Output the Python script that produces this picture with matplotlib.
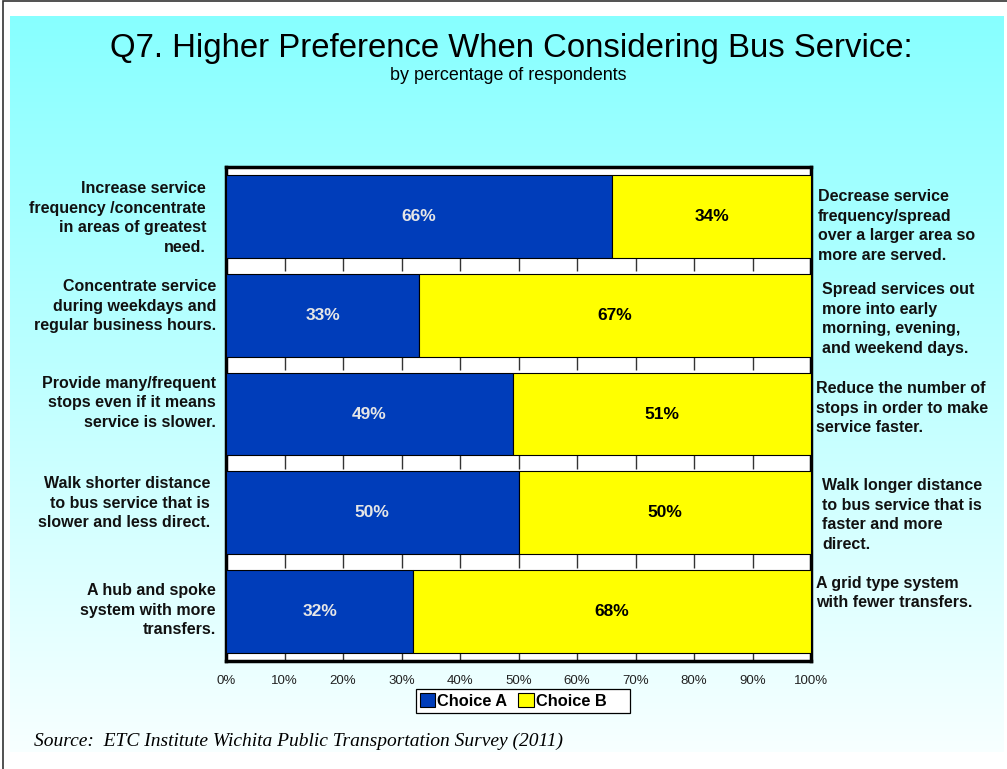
import numpy as np
import matplotlib
matplotlib.use("Agg")
import matplotlib.pyplot as plt
from matplotlib.patches import Patch, Rectangle

# data
left_labels = [
    "Increase service\nfrequency /concentrate\nin areas of greatest\nneed.",
    "Concentrate service\nduring weekdays and\nregular business hours.",
    "Provide many/frequent\nstops even if it means\nservice is slower.",
    "Walk shorter distance\nto bus service that is\nslower and less direct.",
    "A hub and spoke\nsystem with more\ntransfers.",
]
right_labels = [
    "Decrease service\nfrequency/spread\nover a larger area so\nmore are served.",
    "Spread services out\nmore into early\nmorning, evening,\nand weekend days.",
    "Reduce the number of\nstops in order to make\nservice faster.",
    "Walk longer distance\nto bus service that is\nfaster and more\ndirect.",
    "A grid type system\nwith fewer transfers.",
]
choice_a = [66, 33, 49, 50, 32]
choice_b = [34, 67, 51, 50, 68]
x_ticks = [0, 10, 20, 30, 40, 50, 60, 70, 80, 90, 100]

BLUE = "#003DBA"
YELLOW = "#FFFF00"
W, H = 1007, 769

# label placement in pixels (text boxes were placed by hand in the original)
left_x = [206, 216, 216, 210, 216]
left_y = [218, 306, 403, 503, 610]
right_x = [818, 822, 816, 822, 816]
right_y = [226, 319, 408, 515, 593]


def px(x, y):
    return x / W, 1 - y / H


fig = plt.figure(figsize=(W / 100, H / 100), dpi=100)
plt.rcParams['font.family'] = ['Liberation Sans', 'DejaVu Sans']

# background gradient panel
bg = fig.add_axes([10 / W, 1 - 752 / H, (1004 - 10) / W, (752 - 16) / H])
grad = np.linspace(0, 1, 256)[:, None]
top = np.array([0.53, 1.0, 1.0])
bot = np.array([0.97, 1.0, 1.0])
img = top[None, None, :] * (1 - grad[:, :, None]) + bot[None, None, :] * grad[:, :, None]
bg.imshow(img, aspect="auto", extent=[0, 1, 0, 1])
bg.axis("off")

# outer frame
fig.patches.append(Rectangle((3 / W, -0.1), 1.2, 1 - 1 / H + 0.1, transform=fig.transFigure,
                             fill=False, edgecolor="#333333", linewidth=1.2))

ax = fig.add_axes([226 / W, 1 - 661 / H, (811 - 226) / W, (661 - 167) / H])
ax.set_facecolor("white")
y = np.arange(len(choice_a))
bar_h = 0.84
ax.barh(y, choice_a, height=bar_h, color=BLUE, edgecolor="black", linewidth=0.8, zorder=3)
ax.barh(y, choice_b, left=choice_a, height=bar_h, color=YELLOW, edgecolor="black",
        linewidth=0.8, zorder=3)

for i in range(len(choice_a)):
    ax.text(choice_a[i] / 2, i, f"{choice_a[i]}%", ha="center", va="center",
            color="#E6E6E6", fontsize=12.5, fontweight="bold", zorder=4)
    ax.text(choice_a[i] + choice_b[i] / 2, i, f"{choice_b[i]}%", ha="center", va="center",
            color="black", fontsize=12.5, fontweight="bold", zorder=4)
    # small tick marks in the gap below each bar
    ax.vlines(x_ticks[1:-1], i + bar_h / 2, i + 0.5 + (0.5 - bar_h / 2) * (0.7 if i < 4 else 1),
              color="#333333", linewidth=1, zorder=2)

ax.set_xlim(0, 100)
ax.set_ylim(len(choice_a) - 0.5, -0.5)
ax.set_yticks([])
ax.set_xticks(x_ticks)
ax.set_xticklabels([f"{t}%" for t in x_ticks], fontsize=9.5, color="#222222")
ax.tick_params(axis="x", length=0, pad=10)
for s in ax.spines.values():
    s.set_linewidth(2.5)
    s.set_color("black")

# side labels
for i in range(len(left_labels)):
    fig.text(*px(left_x[i], left_y[i]), left_labels[i], ha="right", va="center",
             fontsize=11.5, fontweight="bold", linespacing=1.38, color="#111111")
    fig.text(*px(right_x[i], right_y[i]), right_labels[i], ha="left", va="center",
             fontsize=11.5, fontweight="bold", linespacing=1.38, color="#111111")

fig.text(*px(511, 48), "Q7. Higher Preference When Considering Bus Service:",
         ha="center", va="center", fontsize=23.7)
fig.text(*px(508, 76), "by percentage of respondents", ha="center", va="center", fontsize=12.9)

# legend box (Excel leaves extra room on the right)
fig.patches.append(Rectangle(px(416, 713), 214 / W, 24 / H, transform=fig.transFigure,
                             facecolor="white", edgecolor="black", linewidth=0.9, zorder=5))
handles = [Patch(facecolor=BLUE, edgecolor="black", linewidth=0.8, label="Choice A"),
           Patch(facecolor=YELLOW, edgecolor="black", linewidth=0.8, label="Choice B")]
leg = fig.legend(handles=handles, loc="center left", bbox_to_anchor=px(418, 701), ncol=2,
                 frameon=False, prop={"weight": "bold", "size": 11.8},
                 handlelength=0.95, handleheight=0.95,
                 handletextpad=0.1, columnspacing=0.7, borderpad=0.1, borderaxespad=0)
leg.set_zorder(6)

fig.text(*px(34, 741), "Source:  ETC Institute Wichita Public Transportation Survey (2011)",
         ha="left", va="center", fontsize=14, style="italic",
         family=["Liberation Serif", "DejaVu Serif"])

fig.savefig("out.png", dpi=100)
